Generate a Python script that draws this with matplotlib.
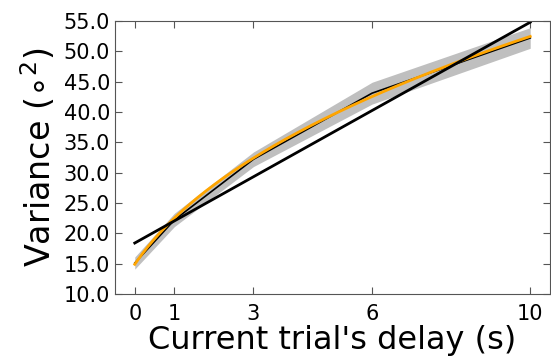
import numpy as np
import matplotlib
matplotlib.use('Agg')
import matplotlib.pyplot as plt

# data
delays = np.array([0, 1, 3, 6, 10])
variance_mean = np.array([15.1, 22.2, 32.2, 43.1, 52.2])
variance_sem = np.array([1.0, 1.1, 1.2, 1.8, 1.7])

xticks = [0, 1, 3, 6, 10]
yticks = np.arange(10, 56, 5)

# linear fit
lin = np.polyfit(delays, variance_mean, 1)

# power fit a + b*(x+1)**c (grid over c, least squares for a, b)
best = None
for c in np.linspace(0.2, 1.5, 261):
    A = np.vstack([np.ones(len(delays)), (delays + 1.0) ** c]).T
    coef = np.linalg.lstsq(A, variance_mean, rcond=None)[0]
    err = np.sum((A @ coef - variance_mean) ** 2)
    if best is None or err < best[0]:
        best = (err, coef, c)
_, (pa, pb), pc = best
xs = np.linspace(0, 10, 300)

fig = plt.figure(figsize=(5.51, 3.6), dpi=100)
ax = fig.add_axes([0.2087, 0.1833, 0.7895, 0.7584])

ax.fill_between(delays, variance_mean - variance_sem, variance_mean + variance_sem,
                color='gray', alpha=0.5, lw=0)
ax.plot(delays, variance_mean, color='black', lw=1.2)
ax.plot(xs, pa + pb * (xs + 1) ** pc, color='orange', lw=2)
ax.plot(xs, np.polyval(lin, xs), color='black', lw=2)

ax.set_xlim(-0.5, 10.5)
ax.set_ylim(10, 55)
ax.set_xticks(xticks)
ax.set_yticks(yticks)
ax.set_yticklabels(['%.1f' % v for v in yticks])
ax.tick_params(direction='in', top=True, right=True, labelsize=15, length=5, color='#555555')
ax.tick_params(axis='x', pad=7)
for s in ax.spines.values():
    s.set_color('#555555')

ax.set_xlabel("Current trial's delay (s)", fontsize=23, labelpad=1)
ax.set_ylabel(r'Variance ($\circ^2$)', fontsize=24, labelpad=4)

fig.savefig('out.png', dpi=100)
